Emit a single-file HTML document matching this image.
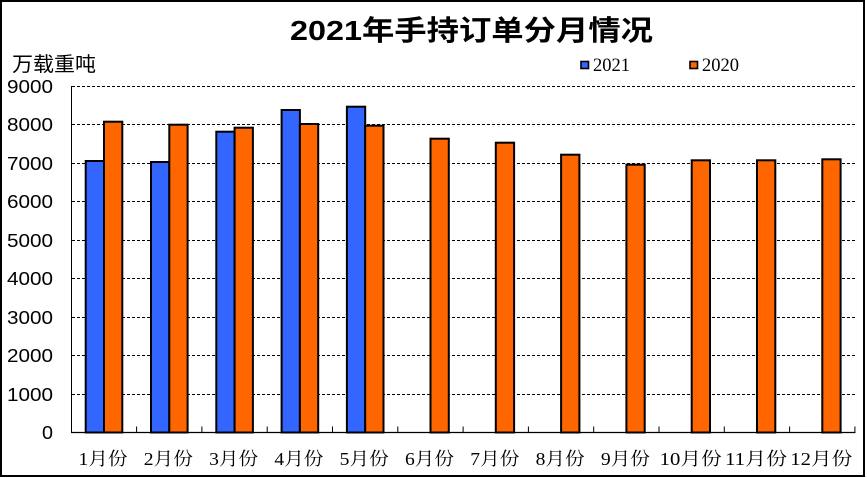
<!DOCTYPE html>
<html><head><meta charset="utf-8"><style>
html,body{margin:0;padding:0;background:#fff;}
svg{display:block;}
</style></head><body>
<svg width="867" height="478" viewBox="0 0 867 478" xmlns="http://www.w3.org/2000/svg">
<rect x="0" y="0" width="867" height="478" fill="#fff"/>
<rect x="1" y="1" width="863" height="475" fill="none" stroke="#000" stroke-width="2"/>
<!-- title -->
<text x="290" y="40" font-family="'Liberation Sans','Noto Sans CJK SC',sans-serif" font-size="28" font-weight="bold" textLength="363" lengthAdjust="spacingAndGlyphs" fill="#000">2021年手持订单分月情况</text>
<!-- unit -->
<text x="12" y="71" font-family="'Liberation Sans','Noto Sans CJK SC',sans-serif" font-size="20" textLength="84" lengthAdjust="spacingAndGlyphs" fill="#000">万载重吨</text>
<!-- legend -->
<rect x="581" y="61.5" width="7.5" height="7" fill="#3366FF" stroke="#000" stroke-width="1.6"/>
<text x="593" y="71" font-family="'Liberation Serif',serif" font-size="18.5" textLength="37" lengthAdjust="spacingAndGlyphs" fill="#000">2021</text>
<rect x="690" y="61.5" width="7.5" height="7" fill="#FF6600" stroke="#000" stroke-width="1.6"/>
<text x="702" y="71" font-family="'Liberation Serif',serif" font-size="18.5" textLength="37" lengthAdjust="spacingAndGlyphs" fill="#000">2020</text>
<!-- gridlines -->
<g stroke="#000" stroke-width="1" stroke-dasharray="3,2">
<line x1="72" y1="86.5" x2="855" y2="86.5"/>
<line x1="72" y1="124.5" x2="855" y2="124.5"/>
<line x1="72" y1="163.5" x2="855" y2="163.5"/>
<line x1="72" y1="201.5" x2="855" y2="201.5"/>
<line x1="72" y1="240.5" x2="855" y2="240.5"/>
<line x1="72" y1="278.5" x2="855" y2="278.5"/>
<line x1="72" y1="317.5" x2="855" y2="317.5"/>
<line x1="72" y1="355.5" x2="855" y2="355.5"/>
<line x1="72" y1="394.5" x2="855" y2="394.5"/>
</g>
<!-- y labels -->
<g font-family="'Liberation Sans',sans-serif" font-size="18" fill="#000" text-anchor="end">
<text x="53" y="93" textLength="46" lengthAdjust="spacingAndGlyphs">9000</text>
<text x="53" y="131" textLength="46" lengthAdjust="spacingAndGlyphs">8000</text>
<text x="53" y="170" textLength="46" lengthAdjust="spacingAndGlyphs">7000</text>
<text x="53" y="208" textLength="46" lengthAdjust="spacingAndGlyphs">6000</text>
<text x="53" y="247" textLength="46" lengthAdjust="spacingAndGlyphs">5000</text>
<text x="53" y="285" textLength="46" lengthAdjust="spacingAndGlyphs">4000</text>
<text x="53" y="324" textLength="46" lengthAdjust="spacingAndGlyphs">3000</text>
<text x="53" y="362" textLength="46" lengthAdjust="spacingAndGlyphs">2000</text>
<text x="53" y="401" textLength="46" lengthAdjust="spacingAndGlyphs">1000</text>
<text x="53" y="439" textLength="11" lengthAdjust="spacingAndGlyphs">0</text>
</g>
<!-- bars -->
<g stroke="#000" stroke-width="2">
<g fill="#3366FF">
<rect x="85.7" y="161" width="18.3" height="271.5"/>
<rect x="151.0" y="162" width="18.3" height="270.5"/>
<rect x="216.3" y="131.7" width="18.3" height="300.8"/>
<rect x="281.6" y="110" width="18.3" height="322.5"/>
<rect x="346.9" y="106.7" width="18.3" height="325.8"/>
</g>
<g fill="#FF6600">
<rect x="104.0" y="121.7" width="18.3" height="310.8"/>
<rect x="169.3" y="124.7" width="18.3" height="307.8"/>
<rect x="234.6" y="127.7" width="18.3" height="304.8"/>
<rect x="299.9" y="124" width="18.3" height="308.5"/>
<rect x="365.2" y="125.7" width="18.3" height="306.8"/>
<rect x="430.5" y="138.7" width="18.3" height="293.8"/>
<rect x="495.8" y="142.7" width="18.3" height="289.8"/>
<rect x="561.1" y="154.7" width="18.3" height="277.8"/>
<rect x="626.4" y="164.7" width="18.3" height="267.8"/>
<rect x="691.7" y="160.3" width="18.3" height="272.2"/>
<rect x="757.0" y="160.3" width="18.3" height="272.2"/>
<rect x="822.3" y="159.3" width="18.3" height="273.2"/>
</g>
</g>
<!-- axes -->
<line x1="71.5" y1="86" x2="71.5" y2="433" stroke="#000" stroke-width="1"/>
<line x1="71" y1="432.5" x2="855.5" y2="432.5" stroke="#000" stroke-width="1.2"/>
<g stroke="#000" stroke-width="1">
<line x1="136.6" y1="426.5" x2="136.6" y2="432.5"/>
<line x1="201.9" y1="426.5" x2="201.9" y2="432.5"/>
<line x1="267.2" y1="426.5" x2="267.2" y2="432.5"/>
<line x1="332.5" y1="426.5" x2="332.5" y2="432.5"/>
<line x1="397.8" y1="426.5" x2="397.8" y2="432.5"/>
<line x1="463.1" y1="426.5" x2="463.1" y2="432.5"/>
<line x1="528.4" y1="426.5" x2="528.4" y2="432.5"/>
<line x1="593.7" y1="426.5" x2="593.7" y2="432.5"/>
<line x1="659.0" y1="426.5" x2="659.0" y2="432.5"/>
<line x1="724.3" y1="426.5" x2="724.3" y2="432.5"/>
<line x1="789.6" y1="426.5" x2="789.6" y2="432.5"/>
<line x1="854.9" y1="426.5" x2="854.9" y2="432.5"/>
</g>
<!-- x labels -->
<g font-family="'Liberation Serif','Noto Serif CJK SC',serif" font-size="18" fill="#000" text-anchor="middle">
<text x="103" y="465" textLength="49" lengthAdjust="spacingAndGlyphs">1月份</text>
<text x="168.3" y="465" textLength="49" lengthAdjust="spacingAndGlyphs">2月份</text>
<text x="233.6" y="465" textLength="49" lengthAdjust="spacingAndGlyphs">3月份</text>
<text x="298.9" y="465" textLength="49" lengthAdjust="spacingAndGlyphs">4月份</text>
<text x="364.2" y="465" textLength="49" lengthAdjust="spacingAndGlyphs">5月份</text>
<text x="429.5" y="465" textLength="49" lengthAdjust="spacingAndGlyphs">6月份</text>
<text x="494.8" y="465" textLength="49" lengthAdjust="spacingAndGlyphs">7月份</text>
<text x="560.1" y="465" textLength="49" lengthAdjust="spacingAndGlyphs">8月份</text>
<text x="625.4" y="465" textLength="49" lengthAdjust="spacingAndGlyphs">9月份</text>
<text x="690.7" y="465" textLength="62" lengthAdjust="spacingAndGlyphs">10月份</text>
<text x="756" y="465" textLength="62" lengthAdjust="spacingAndGlyphs">11月份</text>
<text x="821.3" y="465" textLength="62" lengthAdjust="spacingAndGlyphs">12月份</text>
</g>
</svg>
</body></html>
